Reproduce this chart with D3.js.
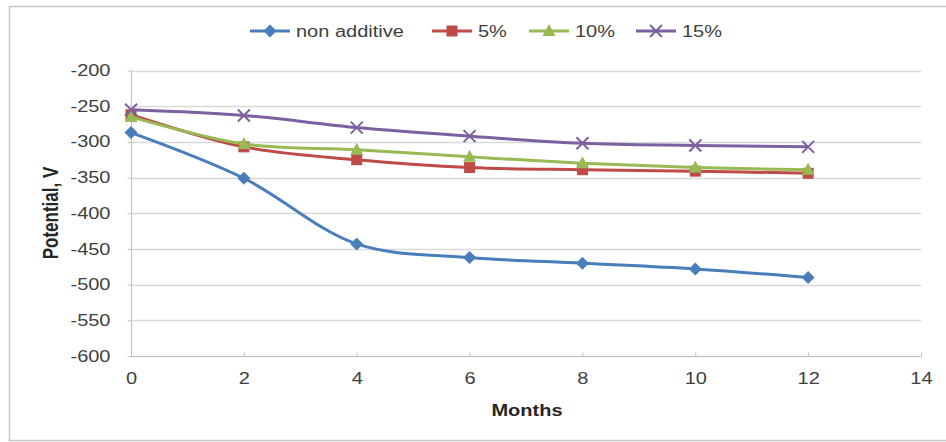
<!DOCTYPE html>
<html><head><meta charset="utf-8">
<script src="https://cdn.jsdelivr.net/npm/d3@7"></script>
<style>body{margin:0;background:#fff}svg{display:block}text{font-family:"Liberation Sans",Arial,sans-serif}</style>
</head><body><svg id="c" width="946" height="442"></svg>
<script>
const months = [0, 2, 4, 6, 8, 10, 12];
const nonAdditive = [-287, -351, -443, -462, -470, -478, -490];
const pct5 = [-262, -307, -325, -336, -339, -341, -344];
const pct10 = [-265, -303, -311, -321, -330, -336, -339];
const pct15 = [-255, -263, -280, -292, -302, -305, -307];
const seriesNames = ["non additive", "5%", "10%", "15%"];
const xTicks = [0, 2, 4, 6, 8, 10, 12, 14];
const yTicks = [-200, -250, -300, -350, -400, -450, -500, -550, -600];

const colors = ["#4A7EBB", "#BE4B48", "#98B954", "#7D60A0"];
const markers = ["diamond", "square", "triangle", "x"];
const seriesVals = [nonAdditive, pct5, pct10, pct15];
const SX = 1.25;

const svg = d3.select("#c");
svg.append("rect").attr("x", 9.5).attr("y", 6.5).attr("width", 960).attr("height", 434)
  .attr("fill", "#fff").attr("stroke", "#c8c8c8").attr("stroke-width", 1.5);

const L = 131, R = 921, T = 70.5, B = 356;
const x = d3.scaleLinear().domain([0, 14]).range([L, R]);
const y = d3.scaleLinear().domain([-600, -200]).range([B, T]);

function stretch(sel) {
  sel.each(function () {
    const t = d3.select(this);
    const xv = +(t.attr("x") || 0);
    t.attr("x", xv / SX).attr("transform", `scale(${SX},1)`);
  });
}

// gridlines
svg.append("g").selectAll("line").data(yTicks).join("line")
  .attr("x1", L).attr("x2", R).attr("y1", d => Math.round(y(d)) + 0.5).attr("y2", d => Math.round(y(d)) + 0.5)
  .attr("stroke", "#d9d9d9").attr("stroke-width", 1.5);

// axes
const xAxis = d3.axisBottom(x).tickValues(xTicks).tickSize(4).tickPadding(12).tickFormat(d => String(d));
const gx = svg.append("g").attr("transform", `translate(0,${Math.round(B) + 0.5})`).call(xAxis);
gx.select(".domain").attr("stroke", "#bfbfbf").attr("d", `M${L},0H${R}`);
gx.selectAll(".tick line").attr("stroke", "#bfbfbf").attr("y1", -4).attr("y2", 0);
gx.selectAll(".tick text").attr("fill", "#404040").attr("font-size", 16).attr("font-family", "Liberation Sans");
stretch(gx.selectAll(".tick text"));

const yAxis = d3.axisLeft(y).tickValues(yTicks).tickSize(4).tickPadding(8).tickFormat(d => String(d));
const gy = svg.append("g").attr("transform", `translate(${L + 0.5},0)`).call(yAxis);
gy.select(".domain").attr("stroke", "#bfbfbf").attr("d", `M0,${T}V${B}`);
gy.selectAll(".tick line").attr("stroke", "#bfbfbf");
gy.selectAll(".tick text").attr("fill", "#404040").attr("font-size", 16).attr("font-family", "Liberation Sans").attr("x", -21);
stretch(gy.selectAll(".tick text"));

svg.append("text").attr("x", 527 / SX).attr("y", 416).attr("transform", `scale(${SX},1)`).attr("text-anchor", "middle")
  .attr("font-size", 16).attr("font-weight", "bold").attr("fill", "#262626").text("Months");
svg.append("text").attr("transform", `translate(58,213) rotate(-90) scale(1,${SX})`).attr("text-anchor", "middle")
  .attr("font-size", 17).attr("font-weight", "bold").attr("fill", "#262626").text("Potential, V");

function drawMarker(g, type, color, cx, cy) {
  if (type === "diamond") {
    g.append("path").attr("d", `M${cx},${cy-6.5}L${cx+6.5},${cy}L${cx},${cy+6.5}L${cx-6.5},${cy}Z`).attr("fill", color);
  } else if (type === "square") {
    g.append("rect").attr("x", cx-5.5).attr("y", cy-5.5).attr("width", 11).attr("height", 11).attr("fill", color);
  } else if (type === "triangle") {
    g.append("path").attr("d", `M${cx},${cy-7}L${cx+6.5},${cy+5}L${cx-6.5},${cy+5}Z`).attr("fill", color);
  } else {
    g.append("path").attr("d", `M${cx-6},${cy-6}L${cx+6},${cy+6}M${cx-6},${cy+6}L${cx+6},${cy-6}`)
      .attr("stroke", color).attr("stroke-width", 2).attr("fill", "none");
  }
}

const line = d3.line().x(d => x(d[0])).y(d => y(d[1])).curve(d3.curveCatmullRom.alpha(0.5));
seriesVals.forEach((vals, i) => {
  const pts = months.map((m, j) => [m, vals[j]]);
  const g = svg.append("g");
  g.append("path").datum(pts).attr("d", line).attr("fill", "none")
    .attr("stroke", colors[i]).attr("stroke-width", 3);
  pts.forEach(p => drawMarker(g, markers[i], colors[i], x(p[0]), y(p[1])));
});

// legend
const legX = [250, 432, 529, 636];
const lg = svg.append("g");
seriesNames.forEach((n, i) => {
  const lx = legX[i], ly = 31;
  lg.append("line").attr("x1", lx).attr("x2", lx + 40).attr("y1", ly).attr("y2", ly)
    .attr("stroke", colors[i]).attr("stroke-width", 3);
  drawMarker(lg, markers[i], colors[i], lx + 20, ly);
  lg.append("text").attr("x", (lx + 46) / SX).attr("y", ly + 6).attr("transform", `scale(${SX},1)`)
    .attr("font-size", 16).attr("fill", "#404040").text(n);
});
</script></body></html>
